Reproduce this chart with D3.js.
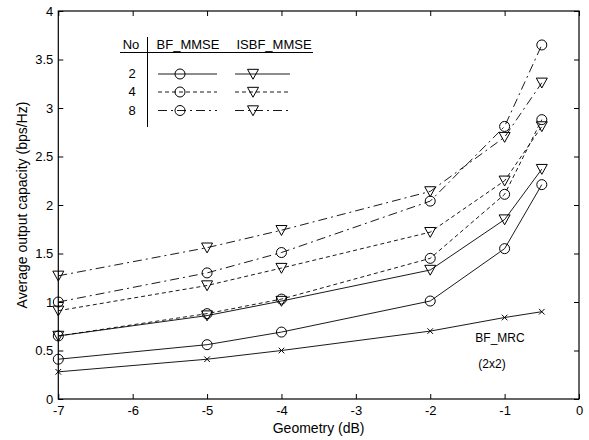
<!DOCTYPE html>
<html><head><meta charset="utf-8">
<script src="https://cdn.jsdelivr.net/npm/d3@7/dist/d3.min.js"></script>
<style>body{margin:0;background:#fff}text{font-family:"Liberation Sans",Arial,sans-serif;fill:#000}</style>
</head><body><svg id="c" width="589" height="440"></svg>
<script>
const xs = [-7, -5, -4, -2, -1, -0.5];
const bfMrc = [0.28, 0.41, 0.50, 0.70, 0.84, 0.90];
const bf2 = [0.41, 0.56, 0.69, 1.01, 1.55, 2.21];
const isbf2 = [0.65, 0.86, 1.01, 1.33, 1.85, 2.37];
const bf4 = [0.65, 0.88, 1.03, 1.45, 2.11, 2.88];
const isbf4 = [0.91, 1.17, 1.35, 1.72, 2.25, 2.81];
const bf8 = [1.00, 1.30, 1.51, 2.04, 2.81, 3.65];
const isbf8 = [1.27, 1.56, 1.74, 2.14, 2.70, 3.26];
const xTicks = [-7, -6, -5, -4, -3, -2, -1, 0];
const yTicks = [0, 0.5, 1, 1.5, 2, 2.5, 3, 3.5, 4];
const legendRows = ["2", "4", "8"];

const svg = d3.select("#c");
const L = 58.3, R = 579, T = 11, B = 399;
const x = d3.scaleLinear().domain([-7, 0]).range([L, R]);
const y = d3.scaleLinear().domain([0, 4]).range([B, T]);
const FS = 13;

const dashes = { "2": null, "4": "4 3", "8": "9 4 2 4" };
const series = [
  { v: bfMrc, m: "x", d: null },
  { v: bf2, m: "o", d: dashes["2"] },
  { v: isbf2, m: "v", d: dashes["2"] },
  { v: bf4, m: "o", d: dashes["4"] },
  { v: isbf4, m: "v", d: dashes["4"] },
  { v: bf8, m: "o", d: dashes["8"] },
  { v: isbf8, m: "v", d: dashes["8"] }
];

function marker(g, type, cx, cy) {
  if (type === "o") {
    g.append("circle").attr("cx", cx).attr("cy", cy).attr("r", 5)
      .attr("fill", "none").attr("stroke", "#000").attr("stroke-width", 1);
  } else if (type === "v") {
    const s = 5.5;
    g.append("path").attr("d", `M${cx - s},${cy - s * 0.85}L${cx + s},${cy - s * 0.85}L${cx},${cy + s * 0.95}Z`)
      .attr("fill", "none").attr("stroke", "#000").attr("stroke-width", 1);
  } else {
    const s = 2.8;
    g.append("path").attr("d", `M${cx - s},${cy - s}L${cx + s},${cy + s}M${cx - s},${cy + s}L${cx + s},${cy - s}`)
      .attr("stroke", "#000").attr("stroke-width", 1);
  }
}

// axes box
const ax = svg.append("g");
ax.append("g").attr("transform", `translate(0,${B})`)
  .call(d3.axisBottom(x).tickValues(xTicks).tickSizeInner(-5).tickSizeOuter(0).tickPadding(7).tickFormat(d => String(d)))
  .call(g => { g.select(".domain").remove(); g.selectAll("text").attr("font-size", FS).attr("font-family", "Liberation Sans, Arial"); });
ax.append("g").attr("transform", `translate(0,${T})`)
  .call(d3.axisTop(x).tickValues(xTicks).tickSizeInner(-5).tickSizeOuter(0).tickFormat(""))
  .call(g => g.select(".domain").remove());
ax.append("g").attr("transform", `translate(${L},0)`)
  .call(d3.axisLeft(y).tickValues(yTicks).tickSizeInner(-5).tickSizeOuter(0).tickPadding(5).tickFormat(d => String(d)))
  .call(g => { g.select(".domain").remove(); g.selectAll("text").attr("font-size", FS).attr("font-family", "Liberation Sans, Arial"); });
ax.append("g").attr("transform", `translate(${R},0)`)
  .call(d3.axisRight(y).tickValues(yTicks).tickSizeInner(-5).tickSizeOuter(0).tickFormat(""))
  .call(g => g.select(".domain").remove());
ax.append("rect").attr("x", L).attr("y", T).attr("width", R - L).attr("height", B - T)
  .attr("fill", "none").attr("stroke", "#000").attr("stroke-width", 1.2);

// series
const line = d3.line().x(d => x(d[0])).y(d => y(d[1]));
series.forEach(s => {
  const pts = xs.map((xv, i) => [xv, s.v[i]]);
  const g = svg.append("g");
  g.append("path").attr("d", line(pts)).attr("fill", "none").attr("stroke", "#000")
    .attr("stroke-width", 0.9).attr("stroke-dasharray", s.d);
  pts.forEach(p => marker(g, s.m, x(p[0]), y(p[1])));
});

// annotations
svg.append("text").attr("x", 500).attr("y", 342).attr("text-anchor", "middle").attr("font-size", 12).text("BF_MRC");
svg.append("text").attr("x", 492).attr("y", 368).attr("text-anchor", "middle").attr("font-size", 12).text("(2x2)");

// axis labels
svg.append("text").attr("x", (L + R) / 2).attr("y", 433).attr("text-anchor", "middle").attr("font-size", 14).text("Geometry (dB)");
svg.append("text").attr("transform", `translate(27,${(T + B) / 2}) rotate(-90)`).attr("text-anchor", "middle").attr("font-size", 14).text("Average output capacity (bps/Hz)");

// legend
const lg = svg.append("g");
lg.append("line").attr("x1", 120).attr("x2", 313).attr("y1", 52.5).attr("y2", 52.5).attr("stroke", "#000");
lg.append("line").attr("x1", 147.5).attr("x2", 147.5).attr("y1", 37).attr("y2", 127).attr("stroke", "#000");
lg.append("text").attr("x", 131).attr("y", 49).attr("text-anchor", "middle").attr("font-size", FS).text("No");
lg.append("text").attr("x", 188).attr("y", 49).attr("text-anchor", "middle").attr("font-size", FS).text("BF_MMSE");
lg.append("text").attr("x", 274).attr("y", 49).attr("text-anchor", "middle").attr("font-size", FS).text("ISBF_MMSE");
const rowY = [74, 92, 110.5];
legendRows.forEach((r, i) => {
  const yy = rowY[i];
  lg.append("text").attr("x", 132).attr("y", yy + 4).attr("text-anchor", "middle").attr("font-size", FS).text(r);
  lg.append("line").attr("x1", 158).attr("x2", 217).attr("y1", yy).attr("y2", yy).attr("stroke", "#000").attr("stroke-width", 0.9).attr("stroke-dasharray", dashes[r]);
  marker(lg, "o", 180, yy);
  lg.append("line").attr("x1", 235).attr("x2", 290).attr("y1", yy).attr("y2", yy).attr("stroke", "#000").attr("stroke-width", 0.9).attr("stroke-dasharray", dashes[r]);
  marker(lg, "v", 253, yy);
});
</script></body></html>
